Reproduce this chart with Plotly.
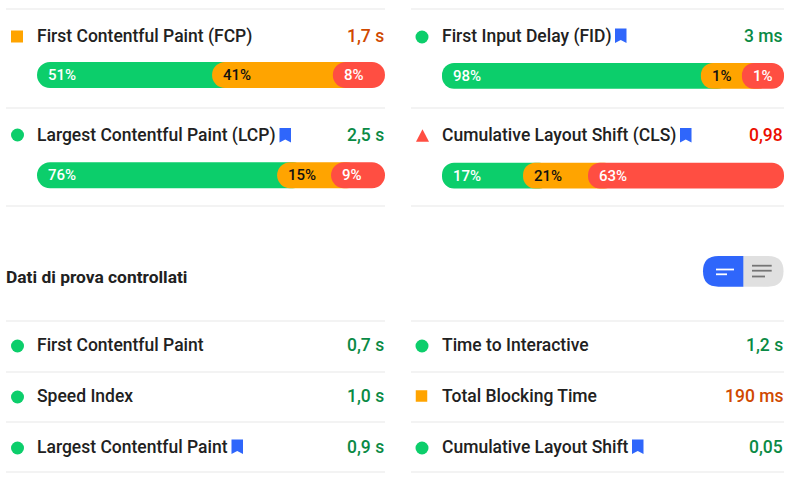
import plotly.graph_objects as go

# ---------- data ----------
field_left_names = ["First Contentful Paint (FCP)", "Largest Contentful Paint (LCP)"]
field_right_names = ["First Input Delay (FID)", "Cumulative Layout Shift (CLS)"]
field_left_values = ["1,7 s", "2,5 s"]
field_right_values = ["3 ms", "0,98"]

# printed percentages
good_left = [51, 76]
average_left = [41, 15]
poor_left = [8, 9]
good_right = [98, 17]
average_right = [1, 21]
poor_right = [1, 63]

# where each coloured band starts along the bar
average_start_left = [50.3, 69.0]
poor_start_left = [85.0, 84.5]
average_start_right = [75.7, 23.7]
poor_start_right = [87.7, 42.7]

section_title = "Dati di prova controllati"
lab_left_names = ["First Contentful Paint", "Speed Index", "Largest Contentful Paint"]
lab_right_names = ["Time to Interactive", "Total Blocking Time", "Cumulative Layout Shift"]
lab_left_values = ["0,7 s", "1,0 s", "0,9 s"]
lab_right_values = ["1,2 s", "190 ms", "0,05"]

# ---------- style ----------
W, H = 800, 483
GREEN, ORANGE, RED = "#0cce6b", "#ffa400", "#ff4e42"
BLUE = "#2f66fb"
VAL_GREEN, VAL_ORANGE, VAL_RED = "#0a8a45", "#d04900", "#eb0f00"
INK = "#212121"
LINE = "#e8e8e8"
FONT = "Roboto"
OVERLAP = 28  # each band runs on underneath the next one's rounded end


def py(y):
    return 1 - y / H


fig = go.Figure()


def add_bars(names, good, average, poor, avg_start, poor_start, xa, ya):
    green_w = [s + OVERLAP / 3.4 for s in avg_start]
    orange_w = [p - s + OVERLAP / 3.4 for s, p in zip(avg_start, poor_start)]
    red_w = [100 - p for p in poor_start]
    for w, b, c in ((green_w, [0] * 2, GREEN), (orange_w, avg_start, ORANGE), (red_w, poor_start, RED)):
        fig.add_trace(go.Bar(y=names, x=w, base=b, orientation="h", marker=dict(color=c, line_width=0),
                             width=0.26, xaxis=xa, yaxis=ya, hoverinfo="skip", showlegend=False))
    for i, n in enumerate(names):
        for start, val, col in ((0, good[i], "#ffffff"), (avg_start[i], average[i], "#111111"),
                                (poor_start[i], poor[i], "#ffffff")):
            fig.add_annotation(x=start, y=n, xref=xa, yref=ya, text=f"{val}%", showarrow=False,
                               xanchor="left", yanchor="middle", xshift=9,
                               font=dict(family=FONT, size=15, color=col, weight=500))


add_bars(field_left_names, good_left, average_left, poor_left,
         average_start_left, poor_start_left, "x", "y")
add_bars(field_right_names, good_right, average_right, poor_right,
         average_start_right, poor_start_right, "x2", "y2")

# status markers, on a page-sized axis
fig.add_trace(go.Scatter(
    x=[17, 17.5, 17.5, 17.5, 17.5], y=[36.5, 135, 346, 397, 448], mode="markers", xaxis="x3", yaxis="y3",
    marker=dict(symbol=["square", "circle", "circle", "circle", "circle"], size=[12, 13, 13, 13, 13],
                color=[ORANGE, GREEN, GREEN, GREEN, GREEN], line_width=0, opacity=1),
    hoverinfo="skip", showlegend=False))
fig.add_trace(go.Scatter(
    x=[422, 422, 421.5, 422], y=[37, 346, 396, 448], mode="markers", xaxis="x3", yaxis="y3",
    marker=dict(symbol=["circle", "circle", "square", "circle"], size=[13, 13, 11.5, 13],
                color=[GREEN, GREEN, ORANGE, GREEN], line_width=0, opacity=1),
    hoverinfo="skip", showlegend=False))

# texts
def label(x, y, text, anchor="left", color=INK, size=17.5, weight=500):
    fig.add_annotation(x=x / W, y=py(y), xref="paper", yref="paper", text=text, showarrow=False,
                       xanchor=anchor, yanchor="middle", xshift=-2 if anchor == "left" else 1,
                       font=dict(family=FONT, size=size, color=color, weight=weight))


rows_left = list(zip(field_left_names + lab_left_names, field_left_values + lab_left_values,
                     [VAL_ORANGE, VAL_GREEN, VAL_GREEN, VAL_GREEN, VAL_GREEN], [36, 135, 345, 396, 447]))
rows_right = list(zip(field_right_names + lab_right_names, field_right_values + lab_right_values,
                      [VAL_GREEN, VAL_RED, VAL_GREEN, VAL_ORANGE, VAL_GREEN], [36, 135, 345, 396, 447]))
for n, v, c, y in rows_left:
    label(37, y, n)
    label(385, y, v, "right", c)
for n, v, c, y in rows_right:
    label(442, y, n)
    label(784, y, v, "right", c)
label(6, 277, section_title, size=17.4, weight=700)

# shapes
shapes = []
for y in (9, 108, 206, 321, 372, 422, 472):
    for x0, x1 in ((6, 385), (411, 784)):
        shapes.append(dict(type="line", xref="paper", yref="paper", x0=x0 / W, x1=x1 / W,
                           y0=py(y), y1=py(y), line=dict(color=LINE, width=1.2)))


def path(points):
    return "M" + "L".join(f"{x / W:.5f},{py(y):.5f}" for x, y in points) + "Z"


def bookmark(x, y):
    return dict(type="path", xref="paper", yref="paper", line_width=0, fillcolor=BLUE,
                path=path([(x, y), (x + 11.5, y), (x + 11.5, y + 14.5), (x + 5.75, y + 11.5), (x, y + 14.5)]))


for bx, by in ((279.5, 128), (615, 28.5), (680, 128), (231.5, 439.5), (632, 439.5)):
    shapes.append(bookmark(bx, by))

# poor-status triangle icon
shapes.append(dict(type="path", xref="paper", yref="paper", line_width=0, fillcolor=RED,
                   path=path([(416, 141.8), (422.5, 129.3), (429, 141.8)])))

# segmented toggle
def rounded(x0, x1, y0, y1, left):
    r = (y1 - y0) / 2
    X0, X1 = x0 / W, x1 / W
    Y0, Y1 = py(y0), py(y1)
    rx, ry = r / W, r / H
    if left:
        return (f"M{X1},{Y0}L{X0 + rx},{Y0}Q{X0},{Y0} {X0},{Y0 - ry}Q{X0},{Y1} {X0 + rx},{Y1}L{X1},{Y1}Z")
    return (f"M{X0},{Y0}L{X1 - rx},{Y0}Q{X1},{Y0} {X1},{Y0 - ry}Q{X1},{Y1} {X1 - rx},{Y1}L{X0},{Y1}Z")


shapes.append(dict(type="path", xref="paper", yref="paper", path=rounded(743, 783.5, 256, 286.7, False),
                   fillcolor="#e0e0e0", line_width=0))
shapes.append(dict(type="path", xref="paper", yref="paper", path=rounded(703, 743.3, 256, 286.7, True),
                   fillcolor=BLUE, line_width=0))
for x0, x1, y, c in ((716, 734, 269.5, "#ffffff"), (716, 727, 274.3, "#ffffff"),
                     (752, 771.7, 265.7, "#757575"), (752, 771.7, 270.7, "#757575"), (752, 765, 276.5, "#757575")):
    shapes.append(dict(type="line", xref="paper", yref="paper", x0=x0 / W, x1=x1 / W,
                       y0=py(y), y1=py(y), line=dict(color=c, width=1.8)))

hidden = dict(visible=False, fixedrange=True)
fig.update_layout(
    width=W, height=H, margin=dict(l=0, r=0, t=0, b=0), autosize=False,
    paper_bgcolor="#ffffff", plot_bgcolor="rgba(0,0,0,0)",
    barmode="overlay", barcornerradius=13, showlegend=False, shapes=shapes,
    font=dict(family=FONT),
    xaxis=dict(domain=[37 / W, 385 / W], range=[0, 100], anchor="y", **hidden),
    yaxis=dict(domain=[py(225.3), py(25)], range=[1.5, -0.5], type="category", anchor="x", **hidden),
    xaxis2=dict(domain=[442 / W, 784 / W], range=[0, 100], anchor="y2", **hidden),
    yaxis2=dict(domain=[py(225.5), py(26)], range=[1.5, -0.5], type="category", anchor="x2", **hidden),
    xaxis3=dict(domain=[0, 1], range=[0, W], anchor="y3", **hidden),
    yaxis3=dict(domain=[0, 1], range=[H, 0], anchor="x3", **hidden),
)
fig.write_html("out.html", config=dict(displayModeBar=False),
               post_script="document.body.style.margin='0';document.documentElement.style.overflow='hidden';")
